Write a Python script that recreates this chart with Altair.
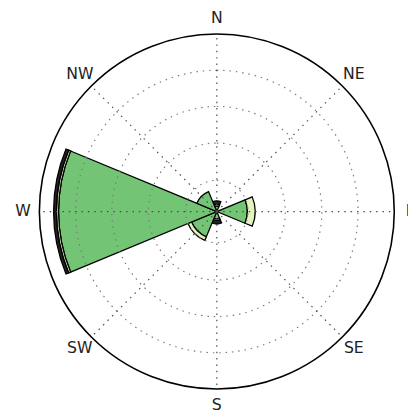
import altair as alt
import pandas as pd
import numpy as np

# ---- data ----
directions = ["N", "NE", "E", "SE", "S", "SW", "W", "NW"]
dir_angles = [0, 45, 90, 135, 180, 225, 270, 315]
sector_width = 45
bin_names = ["low", "mid", "high"]
bin_low = [0.15, 0.0, 0.86, 0.0, 0.20, 0.77, 4.46, 0.61]
bin_mid = [0.05, 0.0, 0.22, 0.0, 0.05, 0.11, 0.06, 0.0]
bin_high = [0.10, 0.0, 0.0, 0.0, 0.10, 0.0, 0.08, 0.0]
bin_colors = ["#74c476", "#e4f4bc", "#222222"]
grid_radii = [0.88, 1.93, 2.96, 3.98]
outer_radius = [5.0]
label_radius = 5.46

# ---- build tables ----
rows = []
for d, a, b1, b2, b3 in zip(directions, dir_angles, bin_low, bin_mid, bin_high):
    base = 0.0
    for name, v in zip(bin_names, [b1, b2, b3]):
        if v > 0:
            rows.append(dict(dir=d, t0=a - sector_width / 2, t1=a + sector_width / 2,
                             r0=base, r1=base + v, bin=name))
            base += v
wedges = pd.DataFrame(rows)

grid = pd.DataFrame({"r": grid_radii})
outer = pd.DataFrame({"r": outer_radius})

rad = np.deg2rad(dir_angles)
spokes = pd.DataFrame({
    "x": [0.0] * len(dir_angles), "y": [0.0] * len(dir_angles),
    "x2": 5.0 * np.sin(rad), "y2": 5.0 * np.cos(rad),
})
labels = pd.DataFrame({
    "label": directions,
    "x": label_radius * np.sin(rad),
    "y": label_radius * np.cos(rad),
})

# ---- scales ----
cx, cy, R = 213, 203.5, 181
theta_scale = alt.Scale(domain=[0, 360], range=[0, 2 * np.pi])
r_scale = alt.Scale(type="linear", domain=[0, 5], range=[0, R], zero=True, nice=False)
x_scale = alt.Scale(domain=[-5, 5], range=[cx - R, cx + R], nice=False, zero=False)
y_scale = alt.Scale(domain=[-5, 5], range=[cy + R, cy - R], nice=False, zero=False)

wedge_layer = alt.Chart(wedges).mark_arc(stroke="black", strokeWidth=1.3).encode(
    theta=alt.Theta("t0:Q", scale=theta_scale, stack=None),
    theta2="t1:Q",
    radius=alt.Radius("r1:Q", scale=r_scale, stack=None),
    radius2="r0:Q",
    color=alt.Color("bin:N", scale=alt.Scale(domain=bin_names, range=bin_colors), legend=None),
    x=alt.value(cx), y=alt.value(cy),
)

grid_layer = alt.Chart(grid).mark_arc(
    fillOpacity=0, stroke="#7a7a7a", strokeWidth=1.2, strokeDash=[1.5, 5]
).encode(
    theta=alt.value(0), theta2=alt.value(2 * np.pi),
    radius=alt.Radius("r:Q", scale=r_scale, stack=None),
    x=alt.value(cx), y=alt.value(cy),
)

spoke_layer = alt.Chart(spokes).mark_rule(
    color="#4a4a4a", strokeWidth=1.2, strokeDash=[1.5, 5]
).encode(
    x=alt.X("x:Q", scale=x_scale, axis=None),
    y=alt.Y("y:Q", scale=y_scale, axis=None),
    x2="x2:Q", y2="y2:Q",
)

outer_layer = alt.Chart(outer).mark_arc(
    fillOpacity=0, stroke="black", strokeWidth=1.6
).encode(
    theta=alt.value(0), theta2=alt.value(2 * np.pi),
    radius=alt.Radius("r:Q", scale=r_scale, stack=None),
    x=alt.value(cx), y=alt.value(cy),
)

label_layer = alt.Chart(labels).mark_text(
    font="DejaVu Sans", fontSize=16, color="#222222", align="center", baseline="middle"
).encode(
    x=alt.X("x:Q", scale=x_scale, axis=None),
    y=alt.Y("y:Q", scale=y_scale, axis=None),
    text="label:N",
)

chart = alt.layer(wedge_layer, grid_layer, spoke_layer, outer_layer, label_layer).properties(
    width=408, height=411, padding=0, autosize=alt.AutoSizeParams(type="none"),
    background="white",
).configure_view(stroke=None)

chart.save("out.html", embed_options={"renderer": "svg", "actions": False})
